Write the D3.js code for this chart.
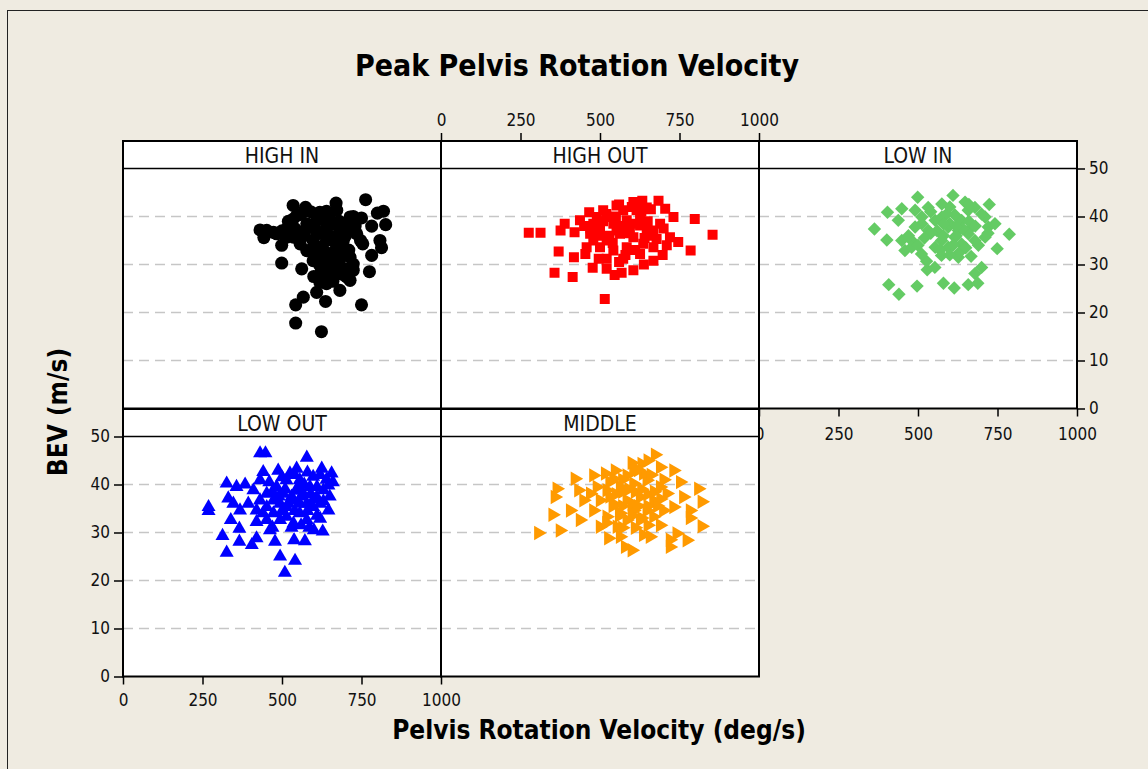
<!DOCTYPE html>
<html>
<head>
<meta charset="utf-8">
<script src="https://cdn.jsdelivr.net/npm/d3@7"></script>
<style>
  body { margin: 0; background: #efebe1; }
  text { font-family: "DejaVu Sans Condensed", "DejaVu Sans", sans-serif; font-stretch: condensed; }
</style>
</head>
<body>
<script>
// values: [pelvis velocity (deg/s), BEV (m/s)]
var highIn = [
  [763,43.5],[670,42.8],[535,42.3],[574,41.9],[819,41.1],[800,40.7],[640,41.1],[534,39.4],[750,39.7],[826,38.3],
  [782,38.0],[431,37.2],[443,35.6],[499,34.0],[483,36.4],[515,35.7],[572,37.1],[609,39.2],[630,39.9],[672,41.3],
  [703,37.8],[724,40.0],[747,35.0],[754,34.3],[808,35.0],[813,33.5],[782,31.9],[775,28.5],[499,30.3],[562,29.1],
  [619,29.8],[661,29.4],[724,28.8],[714,26.7],[682,24.6],[619,26.3],[609,24.2],[567,23.2],[637,22.3],[543,21.6],
  [750,21.6],[543,17.8],[624,16.0],[640,35.0],[672,33.6],[651,31.5],[693,32.2],[630,30.8],[661,35.7],[682,37.1],
  [619,33.6],[598,35.0],[578,32.9],[557,34.3],[693,35.0],[714,31.5],[724,30.1],[651,28.1],[682,28.1],[703,27.4],
  [640,37.8],[609,36.4],[661,38.5],[578,38.5],[546,40.2],[619,40.9],[714,39.9],[735,36.4],[598,30.8],[672,30.1],
  [473,36.7],[515,37.4],[452,37.1],[536,35.7],[600,38.0],[620,36.5],[650,36.0],[670,34.5],[690,33.5],[700,36.0],
  [630,33.0],[610,31.5],[660,32.5],[640,29.5],[680,30.5],[700,29.0],[590,33.0],[570,36.0],[650,39.5],[680,39.0],
  [700,38.5],[560,40.5],[590,41.0],[520,39.0],[500,37.0],[540,37.5],[620,28.0],[600,27.5],[640,26.0],[660,26.5],
  [690,28.0],[710,33.0],[730,38.0],[560,36.0]
];
var highOut = [
  [276,36.6],[313,36.6],[854,36.2],[798,39.5],[785,32.9],[357,28.3],[414,27.4],[515,22.8],[370,32.7],[418,31.5],
  [389,38.5],[376,37.1],[420,36.7],[437,39.2],[466,40.9],[477,29.3],[521,29.1],[546,27.8],[568,28.3],[605,28.8],
  [638,30.0],[668,30.8],[697,32.0],[746,34.7],[731,39.9],[705,41.6],[684,43.3],[633,43.3],[605,43.0],[552,42.3],
  [510,41.3],[490,39.9],[454,32.2],[496,31.2],[573,31.2],[626,32.2],[668,33.6],[689,38.5],[720,35.7],[668,37.1],
  [500,37.8],[542,38.5],[584,39.2],[626,39.9],[563,36.4],[521,35.0],[479,35.0],[605,35.7],[647,37.1],[584,33.6],
  [542,32.9],[500,33.6],[636,34.3],[469,36.4],[615,41.3],[573,41.3],[532,39.9],[647,41.9],[479,38.5],[552,37.1],
  [594,37.4],[626,38.1],[521,31.2],[458,33.6],[678,35.3],[490,37.0],[510,39.0],[530,36.0],[550,40.0],[570,38.0],
  [590,36.5],[610,38.5],[630,41.0],[650,39.0],[660,36.0],[600,42.0],[560,42.5],[520,40.5],[540,34.5],[580,32.0],
  [610,33.0],[640,35.5],[470,37.5],[500,36.0],[660,41.5],[620,43.0],[700,37.5],[710,34.0],[450,38.0],[560,30.5]
];
var lowIn = [
  [499,44.0],[610,44.4],[724,42.5],[404,40.9],[449,41.6],[363,37.4],[402,35.1],[787,36.3],[749,33.3],[667,31.7],
  [742,38.5],[700,29.4],[679,28.1],[658,25.8],[688,26.1],[614,25.1],[580,26.1],[497,25.5],[408,25.8],[440,23.8],
  [529,28.9],[553,29.4],[527,30.7],[627,31.5],[574,31.9],[511,32.2],[459,32.9],[480,35.0],[449,35.0],[438,39.2],
  [491,41.3],[532,41.9],[575,42.6],[648,43.0],[679,41.9],[711,39.9],[512,38.5],[554,39.2],[595,37.8],[637,39.2],
  [669,37.8],[616,35.7],[574,35.0],[637,34.3],[679,35.0],[711,35.7],[595,33.6],[554,33.6],[616,40.3],[658,41.3],
  [532,37.1],[491,37.8],[721,37.8],[575,39.9],[627,37.1],[658,36.4],[480,33.6],[512,39.9],[560,37.0],[580,36.0],
  [600,38.5],[620,36.0],[640,37.5],[660,39.0],[680,38.0],[700,40.5],[590,40.5],[610,34.0],[630,32.5],[650,33.5],
  [570,33.0],[600,32.0],[540,36.5],[520,35.5],[500,34.0],[470,36.0],[690,34.0],[720,36.5],[660,42.5],[600,42.0],
  [540,41.0],[620,38.0],[580,38.5]
];
var lowOut = [
  [431,46.5],[448,46.5],[578,45.6],[269,35.3],[326,40.2],[313,29.3],[326,25.8],[366,28.1],[405,27.4],[420,28.8],
  [478,28.1],[494,25.0],[509,21.6],[541,24.1],[538,28.4],[572,28.2],[628,30.2],[586,31.0],[339,32.6],[366,30.8],
  [420,32.2],[462,30.5],[441,42.6],[488,42.9],[546,43.3],[625,43.3],[656,42.3],[646,39.8],[646,34.6],[620,32.9],
  [384,40.0],[357,39.5],[331,37.1],[347,36.0],[368,34.6],[394,36.0],[410,38.8],[431,40.9],[452,38.1],[483,39.5],
  [514,40.9],[556,40.9],[588,39.5],[609,37.4],[578,36.0],[536,36.7],[494,36.0],[452,35.3],[473,34.0],[514,33.3],
  [556,34.0],[598,35.3],[504,38.1],[546,38.7],[473,36.7],[431,36.7],[567,38.1],[525,42.3],[598,41.6],[630,38.8],
  [494,32.6],[536,31.9],[578,32.6],[452,32.6],[420,34.6],[620,36.0],[514,35.3],[556,36.0],[269,34.5],[640,41.0],
  [490,37.5],[510,39.0],[530,37.5],[550,39.5],[570,40.0],[590,38.0],[610,39.5],[630,36.5],[600,37.0],[560,37.5],
  [520,36.0],[540,34.5],[580,34.5],[610,33.5],[500,34.5],[470,38.5],[460,40.5],[500,41.5],[540,42.0],[580,42.5],
  [620,42.0],[650,37.5],[530,31.0],[560,31.5],[470,31.0],[440,34.0],[600,30.5],[660,40.5]
];
var middle = [
  [673,46.2],[306,29.9],[374,30.4],[351,33.7],[364,39.1],[358,37.4],[421,41.2],[809,39.1],[820,36.4],[820,31.3],
  [783,34.6],[773,28.4],[741,29.8],[720,27.0],[600,26.3],[579,27.0],[526,28.8],[563,29.1],[636,29.5],[657,29.1],
  [689,31.5],[437,32.6],[406,34.6],[448,36.7],[432,38.8],[479,41.9],[516,42.3],[547,42.9],[631,44.3],[689,43.6],
  [731,42.9],[752,40.5],[762,37.4],[731,35.3],[521,38.8],[563,39.5],[605,40.2],[647,40.9],[689,39.5],[626,37.4],
  [584,36.7],[542,36.0],[500,36.7],[668,36.7],[647,34.6],[605,34.6],[563,34.0],[521,33.3],[479,34.6],[584,32.6],
  [626,32.6],[668,33.3],[710,38.1],[584,41.9],[542,41.2],[490,39.5],[469,38.1],[553,31.2],[500,31.2],[699,34.6],
  [636,42.3],[605,42.9],[720,28.5],[783,33.0],[530,37.5],[550,38.0],[570,38.5],[590,39.0],[610,38.5],[630,39.0],
  [650,38.0],[670,38.5],[690,37.0],[540,35.5],[570,35.5],[600,36.0],[620,35.5],[650,35.5],[680,35.5],[560,33.5],
  [600,33.5],[630,33.0],[520,32.0],[570,31.0],[610,31.0],[650,31.5],[530,40.5],[570,41.0],[620,43.0],[660,42.0],
  [700,41.0],[600,44.5],[650,45.0]
];

var groups = ['HIGH IN', 'HIGH OUT', 'LOW IN', 'LOW OUT', 'MIDDLE'];
var xTicks = [0, 250, 500, 750, 1000];
var yTicks = [0, 10, 20, 30, 40, 50];

var W = 1148, H = 769;
var cols = [123, 441, 759], rows = [141, 409];
var stripH = 27.5, plotW = 318, plotH = 240;

var svg = d3.select('body').append('svg')
  .attr('width', W)
  .attr('height', H);

// outer frame
svg.append('rect')
  .attr('x', 7.5).attr('y', 10.5)
  .attr('width', W).attr('height', H)
  .attr('fill', '#efebe1')
  .attr('stroke', '#222')
  .attr('stroke-width', 1);

var x = d3.scaleLinear().domain([0, 1000]).range([0, plotW]);
var y = d3.scaleLinear().domain([0, 50]).range([stripH + plotH, stripH]);
var fmt = d3.format('d');

function styleAxis(sel) {
  sel.select('.domain').remove();
  sel.selectAll('.tick line').attr('stroke', '#000').attr('stroke-width', 1.5);
  sel.selectAll('.tick text').attr('fill', '#111').style('font-size', '17px');
}

var panels = [
  { name: groups[0], col: 0, row: 0, data: highIn,  color: '#000000', sym: d3.symbolCircle,   size: 135, rot: 0 },
  { name: groups[1], col: 1, row: 0, data: highOut, color: '#ff0000', sym: d3.symbolSquare,   size: 100, rot: 0 },
  { name: groups[2], col: 2, row: 0, data: lowIn,   color: '#64cb64', sym: d3.symbolSquare,   size: 90,  rot: 45 },
  { name: groups[3], col: 0, row: 1, data: lowOut,  color: '#0000ff', sym: d3.symbolTriangle, size: 85,  rot: 0 },
  { name: groups[4], col: 1, row: 1, data: middle,  color: '#ff9a00', sym: d3.symbolTriangle, size: 90,  rot: 90 }
];

function drawPanel(p) {
  var g = svg.append('g')
    .attr('transform', `translate(${cols[p.col]}, ${rows[p.row]})`);

  g.append('rect')
    .attr('width', plotW).attr('height', stripH + plotH)
    .attr('fill', '#fff');

  // dashed reference lines
  g.selectAll('line.grid')
    .data([10, 20, 30, 40])
    .enter().append('line')
    .attr('class', 'grid')
    .attr('x1', 0).attr('x2', plotW)
    .attr('y1', d => y(d)).attr('y2', d => y(d))
    .attr('stroke', '#c6c6c6')
    .attr('stroke-width', 1.5)
    .attr('stroke-dasharray', '10,6');

  var clip = 'clip' + p.col + p.row;
  g.append('clipPath').attr('id', clip)
    .append('rect').attr('y', stripH).attr('width', plotW).attr('height', plotH);

  g.append('g').attr('clip-path', `url(#${clip})`)
    .selectAll('path')
    .data(p.data)
    .enter().append('path')
    .attr('d', d3.symbol().type(p.sym).size(p.size))
    .attr('transform', d => `translate(${x(d[0])}, ${y(d[1])}) rotate(${p.rot})`)
    .attr('fill', p.color);

  // strip
  g.append('rect')
    .attr('width', plotW).attr('height', stripH)
    .attr('fill', '#fff')
    .attr('stroke', '#000')
    .attr('stroke-width', 1.5);
  g.append('text')
    .attr('x', plotW / 2).attr('y', stripH / 2 + 1)
    .attr('dy', '0.36em')
    .attr('text-anchor', 'middle')
    .style('font-size', '21px')
    .attr('fill', '#111')
    .text(p.name);

  g.append('rect')
    .attr('width', plotW).attr('height', stripH + plotH)
    .attr('fill', 'none')
    .attr('stroke', '#000')
    .attr('stroke-width', 2);
}

// axis that sits under the lower panels (its 0 label is partly covered)
svg.append('g')
  .attr('transform', `translate(${cols[2]}, ${rows[0] + stripH + plotH})`)
  .call(d3.axisBottom(x).tickValues(xTicks).tickFormat(fmt).tickSize(8).tickPadding(11))
  .call(styleAxis);

panels.forEach(drawPanel);

svg.append('g')
  .attr('transform', `translate(${cols[1]}, ${rows[0]})`)
  .call(d3.axisTop(x).tickValues(xTicks).tickFormat(fmt).tickSize(8).tickPadding(7))
  .call(styleAxis);

svg.append('g')
  .attr('transform', `translate(${cols[2] + plotW}, ${rows[0]})`)
  .call(d3.axisRight(y).tickValues(yTicks).tickSize(8).tickPadding(4))
  .call(styleAxis);

svg.append('g')
  .attr('transform', `translate(${cols[0]}, ${rows[1]})`)
  .call(d3.axisLeft(y).tickValues(yTicks).tickSize(9).tickPadding(4))
  .call(styleAxis);

svg.append('g')
  .attr('transform', `translate(${cols[0]}, ${rows[1] + stripH + plotH})`)
  .call(d3.axisBottom(x).tickValues(xTicks).tickFormat(fmt).tickSize(8).tickPadding(9))
  .call(styleAxis);

// titles
svg.append('text')
  .attr('x', 577).attr('y', 76)
  .attr('text-anchor', 'middle')
  .style('font-size', '30px').style('font-weight', 'bold')
  .text('Peak Pelvis Rotation Velocity');

svg.append('text')
  .attr('x', 599).attr('y', 739)
  .attr('text-anchor', 'middle')
  .style('font-size', '26px').style('font-weight', 'bold')
  .text('Pelvis Rotation Velocity (deg/s)');

svg.append('text')
  .attr('transform', 'translate(67, 412) rotate(-90)')
  .attr('text-anchor', 'middle')
  .style('font-size', '26px').style('font-weight', 'bold')
  .text('BEV (m/s)');
</script>
</body>
</html>
